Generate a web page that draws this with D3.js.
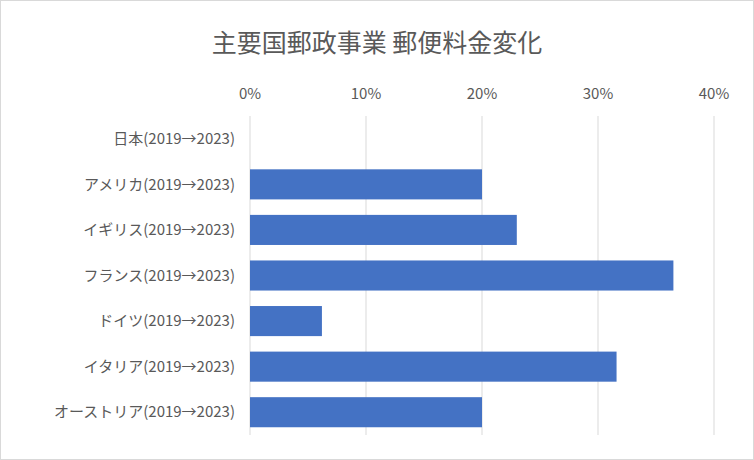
<!DOCTYPE html>
<html><head><meta charset="utf-8">
<script src="https://cdn.jsdelivr.net/npm/d3@7"></script>
<style>body{margin:0;background:#fff}text{font-family:"Noto Sans CJK JP",sans-serif}</style>
</head><body><script>
var categories = ["日本(2019→2023)","アメリカ(2019→2023)","イギリス(2019→2023)","フランス(2019→2023)","ドイツ(2019→2023)","イタリア(2019→2023)","オーストリア(2019→2023)"];
var values = [0, 0.20, 0.23, 0.365, 0.062, 0.316, 0.20];
var ticks = [0, 0.1, 0.2, 0.3, 0.4];

var svg = d3.select("body").append("svg").attr("width", 754).attr("height", 460);
svg.append("rect").attr("x",0.5).attr("y",0.5).attr("width",753).attr("height",459)
   .attr("fill","#fff").attr("stroke","#d9d9d9");

svg.append("text").attr("x", 377).attr("y", 52).attr("text-anchor","middle")
   .attr("font-size", 25).attr("fill","#595959").text("主要国郵政事業 郵便料金変化");

var x = d3.scaleLinear().domain([0, 0.4]).range([250, 714]);
var y = d3.scaleBand().domain(categories).range([116, 435]).paddingInner(0.34).paddingOuter(0.17);

svg.selectAll("line.grid").data(ticks).enter().append("line")
   .attr("x1", x).attr("x2", x).attr("y1", 116).attr("y2", 435)
   .attr("stroke","#d9d9d9");

svg.selectAll("text.tick").data(ticks).enter().append("text")
   .attr("x", x).attr("y", 99).attr("text-anchor","middle").attr("font-size",15)
   .attr("fill","#595959").text(d3.format(".0%"));

svg.selectAll("rect.bar").data(values).enter().append("rect")
   .attr("x", x(0)).attr("y", function(d,i){ return y(categories[i]); })
   .attr("width", function(d){ return x(d) - x(0); }).attr("height", y.bandwidth())
   .attr("fill","#4472c4");

svg.selectAll("text.cat").data(categories).enter().append("text")
   .attr("x", 235).attr("y", function(d){ return y(d) + y.bandwidth()/2; })
   .attr("dy","0.35em").attr("text-anchor","end").attr("font-size",15)
   .attr("fill","#595959").text(function(d){ return d; });
</script></body></html>
